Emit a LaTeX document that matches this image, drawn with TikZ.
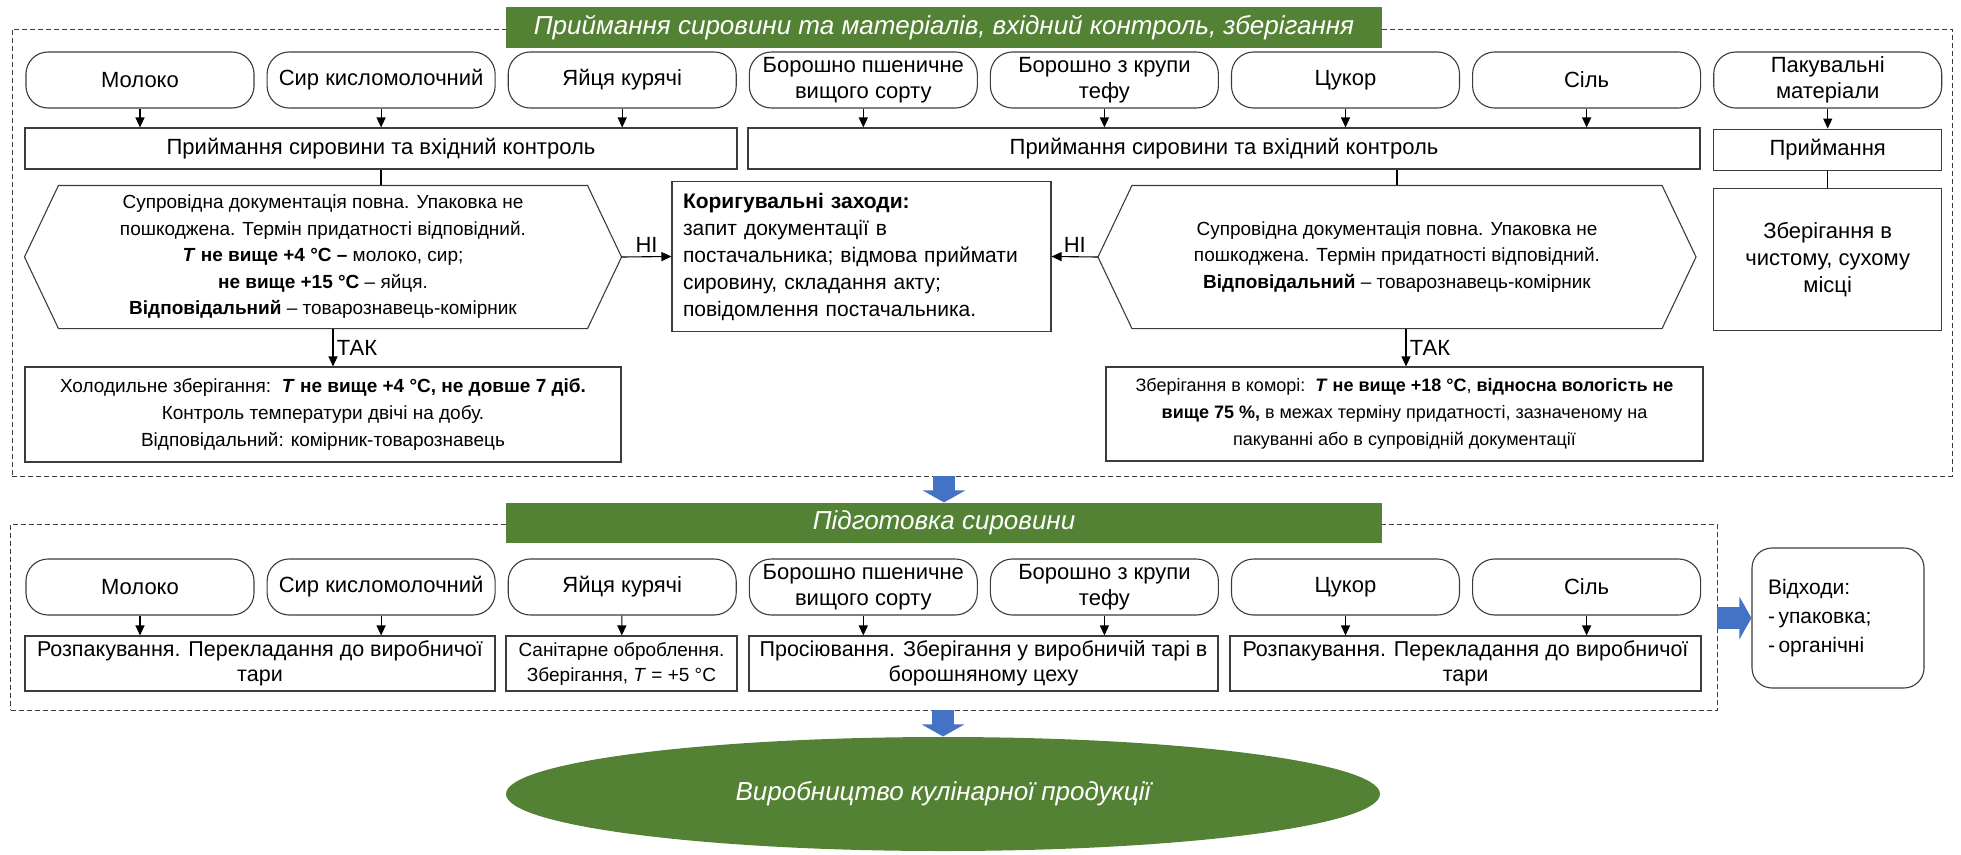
\documentclass[tikz,border=0pt]{standalone}
\usepackage{fontspec}
\setmainfont{Liberation Sans}
\usetikzlibrary{positioning}
\usetikzlibrary{shapes.geometric}
\usetikzlibrary{arrows.meta}
\definecolor{headgreen}{RGB}{84,130,53}
\definecolor{flowblue}{RGB}{68,114,196}
\definecolor{edgegray}{RGB}{60,60,60}

\begin{document}
\begin{tikzpicture}[x=1pt,y=-1pt,node distance=12pt,line width=1.1pt,
  every node/.style={font=\fontsize{22}{26}\selectfont},
  term/.style={draw=edgegray,rounded corners=22pt,minimum width=228pt,minimum height=56pt,align=center,inner sep=1pt},
  stepbox/.style={draw=edgegray,align=center,inner sep=3pt},
  groupframe/.style={draw=edgegray,dash pattern=on 5pt off 3pt,line width=0.9pt},
  headbar/.style={fill=headgreen,text=white,font=\fontsize{26}{30}\selectfont\itshape,minimum width=876pt},
  arr/.style={-{Triangle[length=10pt,width=9pt]}},
  bigarr/.style={draw=flowblue,line width=22pt,-{Triangle[length=12pt,width=42pt]}}]
  \useasboundingbox (0,0) rectangle (1961,854);

  \node[groupframe,minimum width=1940pt,minimum height=447pt](frame1) at (982,252.5) {};
  \node[headbar,minimum height=41pt](head1) at (944,27.5) {Приймання сировини та матеріалів, вхідний контроль, зберігання};

  \node[term](moloko1) at (140,80) {Молоко};
  \node[term,right= of moloko1](syr1) {Сир кисломолочний};
  \node[term,right= of syr1](egg1) {Яйця курячі};
  \node[term,right= of egg1](flour1) {Борошно пшеничне\\вищого сорту};
  \node[term,right= of flour1](teff1) {Борошно з крупи\\тефу};
  \node[term,right= of teff1](sugar1) {Цукор};
  \node[term,right= of sugar1](salt1) {Сіль};
  \node[term,right= of salt1](pack1) {Пакувальні\\матеріали};

  \node[stepbox,minimum width=712pt,minimum height=41pt](recvA) at (381,148.5) {Приймання сировини та вхідний контроль};
  \node[stepbox,minimum width=952pt,minimum height=41pt](recvB) at (1224,148.5) {Приймання сировини та вхідний контроль};
  \node[stepbox,minimum width=228pt,minimum height=41pt,below=20pt of pack1](recvC) {Приймання};

  \node[align=center,minimum width=528pt,minimum height=142pt,font=\fontsize{19}{26.5}\selectfont](hexL) at (323,257) {Супровідна документація повна. Упаковка не\\пошкоджена. Термін придатності відповідний.\\\textbf{\textit{T} не вище +4 °C –} молоко, сир;\\\textbf{не вище +15 °C} – яйця.\\\textbf{Відповідальний} – товарознавець-комірник};
  \node[align=center,minimum width=529pt,minimum height=142pt,font=\fontsize{19}{26.5}\selectfont](hexR) at (1397,257) {Супровідна документація повна. Упаковка не\\пошкоджена. Термін придатності відповідний.\\\textbf{Відповідальний} – товарознавець-комірник};
  \node[draw=edgegray,align=left,text width=357pt,inner sep=11pt,minimum height=141pt,font=\fontsize{21}{27}\selectfont](corr) at (861.5,256.5) {\textbf{Коригувальні заходи:}\\запит документації в\\постачальника; відмова приймати\\сировину, складання акту;\\повідомлення постачальника.};
  \node[stepbox,minimum width=228pt,minimum height=142pt,below=17pt of recvC,font=\fontsize{22}{27}\selectfont](storeC) {Зберігання в\\чистому, сухому\\місці};

  \node[stepbox,minimum width=596pt,minimum height=95pt,font=\fontsize{19}{27}\selectfont](holdL) at (323,414.5) {Холодильне зберігання:\ \ \textbf{\textit{T} не вище +4 °C, не довше 7 діб.}\\Контроль температури двічі на добу.\\Відповідальний: комірник-товарознавець};
  \node[stepbox,minimum width=597pt,minimum height=94pt,font=\fontsize{18}{27}\selectfont](holdR) at (1404.5,414) {Зберігання в коморі:\ \ \textbf{\textit{T} не вище +18 °C}, \textbf{відносна вологість не}\\\textbf{вище 75 \%,} в межах терміну придатності, зазначеному на\\пакуванні або в супровідній документації};

  \foreach \h in {hexL,hexR}
    \draw[draw=edgegray] (\h.north west) -- (\h.north east) -- ([xshift=34pt]\h.east) -- (\h.south east) -- (\h.south west) -- ([xshift=-34pt]\h.west) -- cycle;

  \foreach \t in {moloko1,syr1,egg1}
    \draw[arr] (\t.south) -- (\t.south |- recvA.north);
  \foreach \t in {flour1,teff1,sugar1,salt1}
    \draw[arr] (\t.south) -- (\t.south |- recvB.north);
  \draw[arr] (pack1) -- (recvC);
  \draw (recvC) -- (storeC);
  \draw (recvA.south) -- (recvA.south |- hexL.north);
  \draw (recvB.south -| hexR.north) -- (hexR.north);
  \draw[arr] ([xshift=34pt]hexL.east) -- (corr.west) node[midway,above]{НІ};
  \draw[arr] ([xshift=-34pt]hexR.west) -- (corr.east) node[midway,above]{НІ};
  \draw[arr] ([xshift=10pt]hexL.south) -- ([xshift=10pt]hexL.south |- holdL.north) node[midway,right]{ТАК};
  \draw[arr] ([xshift=9pt]hexR.south) -- ([xshift=9pt]hexR.south |- holdR.north) node[midway,right]{ТАК};

  \node[groupframe,minimum width=1706.5pt,minimum height=186pt](frame2) at (863.75,617) {};
  \node[headbar,minimum height=40pt](head2) at (944,523) {Підготовка сировини};

  \node[term](moloko2) at (140,587) {Молоко};
  \node[term,right= of moloko2](syr2) {Сир кисломолочний};
  \node[term,right= of syr2](egg2) {Яйця курячі};
  \node[term,right= of egg2](flour2) {Борошно пшеничне\\вищого сорту};
  \node[term,right= of flour2](teff2) {Борошно з крупи\\тефу};
  \node[term,right= of teff2](sugar2) {Цукор};
  \node[term,right= of sugar2](salt2) {Сіль};

  \node[stepbox,minimum width=470pt,minimum height=55pt,font=\fontsize{21.5}{25}\selectfont](unpackA) at (260,663.5) {Розпакування. Перекладання до виробничої\\тари};
  \node[stepbox,minimum width=231pt,minimum height=55pt,font=\fontsize{19}{25}\selectfont](sanit) at (621.5,663.5) {Санітарне оброблення.\\Зберігання, \textit{T} = +5 °C};
  \node[stepbox,minimum width=469pt,minimum height=55pt,font=\fontsize{21.5}{25}\selectfont](sift) at (983.5,663.5) {Просіювання. Зберігання у виробничій тарі в\\борошняному цеху};
  \node[stepbox,minimum width=471pt,minimum height=55pt,font=\fontsize{21.5}{25}\selectfont](unpackB) at (1465.5,663.5) {Розпакування. Перекладання до виробничої\\тари};

  \foreach \t in {moloko2,syr2}
    \draw[arr] (\t.south) -- (\t.south |- unpackA.north);
  \draw[arr] (egg2) -- (sanit);
  \foreach \t in {flour2,teff2}
    \draw[arr] (\t.south) -- (\t.south |- sift.north);
  \foreach \t in {sugar2,salt2}
    \draw[arr] (\t.south) -- (\t.south |- unpackB.north);

  \node[draw=edgegray,rounded corners=20pt,align=left,text width=140pt,inner xsep=16pt,minimum height=140pt,font=\fontsize{21}{29}\selectfont](waste) at (1838,618) {Відходи:\\-\,упаковка;\\-\,органічні};
  \node[ellipse,fill=headgreen,text=white,minimum width=874pt,minimum height=114pt,font=\fontsize{26}{30}\selectfont\itshape](prod) at (943,794) {Виробництво кулінарної продукції};

  \draw[bigarr] (frame1.south -| head2.north) -- (head2.north);
  \draw[bigarr] (frame2.south -| prod.north) -- (prod.north);
  \draw[bigarr] (frame2.east |- waste.west) -- (waste.west);
\end{tikzpicture}
\end{document}
